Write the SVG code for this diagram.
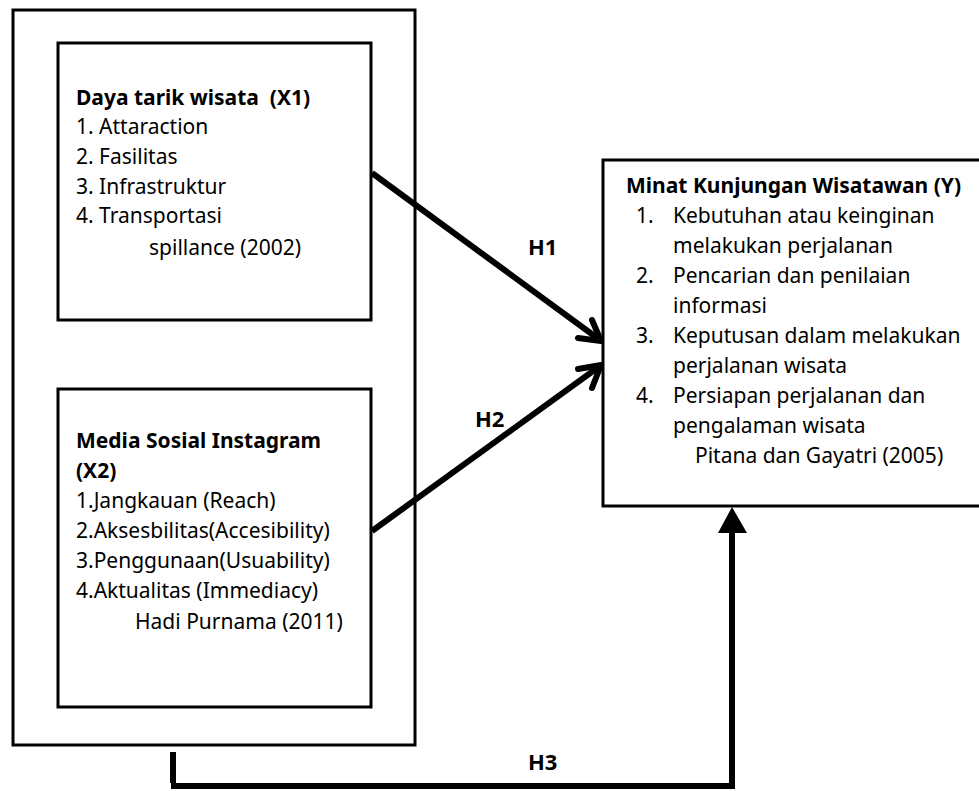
<svg xmlns="http://www.w3.org/2000/svg" width="979" height="791" viewBox="0 0 979 791">
<style>
.box{fill:#fff;stroke:#000;stroke-width:3}
.t{font-family:"Noto Sans","Open Sans","DejaVu Sans",sans-serif;font-size:21px;fill:#000;white-space:pre}
.b{font-weight:bold}
.h{font-size:22px}
.ln{fill:none;stroke:#000;stroke-width:6;stroke-linecap:butt}
.hd{fill:none;stroke:#000;stroke-width:6;stroke-linecap:round;stroke-linejoin:round}
</style>
<rect width="979" height="791" fill="#fff"/>
<g id="outer">
<rect class="box" x="13" y="10" width="402" height="735"/>
</g>
<g id="x1">
<rect class="box" x="58" y="43" width="313" height="277"/>
<text class="t b" x="76" y="105" xml:space="preserve">Daya tarik wisata  (X1)</text>
<text class="t" x="76" y="134">1. Attaraction</text>
<text class="t" x="76" y="164">2. Fasilitas</text>
<text class="t" x="76" y="194">3. Infrastruktur</text>
<text class="t" x="76" y="223">4. Transportasi</text>
<text class="t" x="149" y="255">spillance (2002)</text>
</g>
<g id="x2">
<rect class="box" x="58" y="389" width="313" height="318"/>
<text class="t b" x="76" y="448">Media Sosial Instagram</text>
<text class="t b" x="76" y="478">(X2)</text>
<text class="t" x="76" y="508">1.Jangkauan (Reach)</text>
<text class="t" x="76" y="538">2.Aksesbilitas(Accesibility)</text>
<text class="t" x="76" y="568">3.Penggunaan(Usuability)</text>
<text class="t" x="76" y="598">4.Aktualitas (Immediacy)</text>
<text class="t" x="135" y="629">Hadi Purnama (2011)</text>
</g>
<g id="y">
<rect class="box" x="603" y="160" width="380" height="346"/>
<text class="t b" x="626" y="193">Minat Kunjungan Wisatawan (Y)</text>
<text class="t" x="636" y="223">1.</text>
<text class="t" x="673" y="223">Kebutuhan atau keinginan</text>
<text class="t" x="673" y="253">melakukan perjalanan</text>
<text class="t" x="636" y="283">2.</text>
<text class="t" x="673" y="283">Pencarian dan penilaian</text>
<text class="t" x="673" y="313">informasi</text>
<text class="t" x="636" y="343">3.</text>
<text class="t" x="673" y="343">Keputusan dalam melakukan</text>
<text class="t" x="673" y="373">perjalanan wisata</text>
<text class="t" x="636" y="403">4.</text>
<text class="t" x="673" y="403">Persiapan perjalanan dan</text>
<text class="t" x="673" y="433">pengalaman wisata</text>
<text class="t" x="695" y="463">Pitana dan Gayatri (2005)</text>
</g>
<g id="connectors">
<line class="ln" x1="372" y1="173" x2="600" y2="340"/>
<polyline class="hd" points="578,338 601,341 592,320"/>
<line class="ln" x1="372" y1="531" x2="600" y2="366"/>
<polyline class="hd" points="578,369 601,365 592,388"/>
<line class="ln" x1="173" y1="752" x2="173" y2="783"/>
<polyline class="ln" points="171,786 732,786 732,530"/>
<polygon points="732,507 718,533 747,533" fill="#000"/>
<text class="t b h" x="528" y="255">H1</text>
<text class="t b h" x="475" y="427">H2</text>
<text class="t b h" x="528" y="770">H3</text>
</g>
</svg>
